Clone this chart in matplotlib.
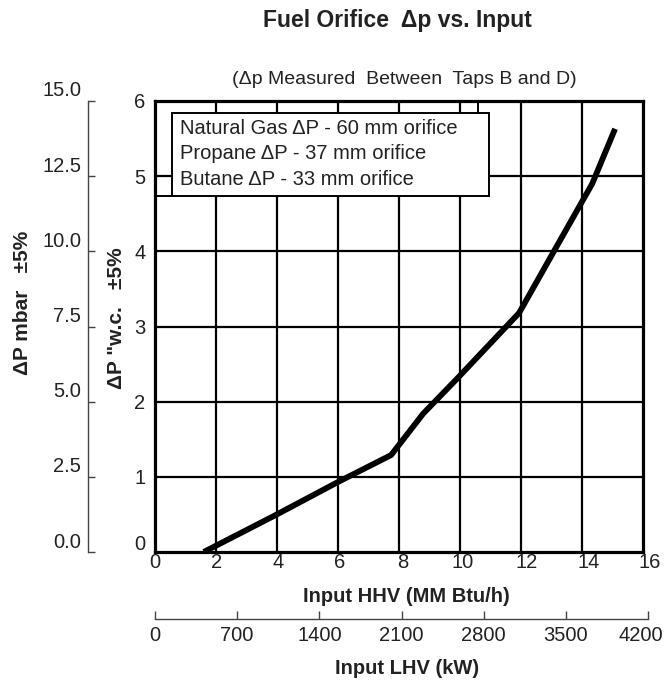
import numpy as np
import matplotlib
matplotlib.use("Agg")
import matplotlib.pyplot as plt
from matplotlib.patches import Rectangle
from matplotlib.transforms import ScaledTranslation

plt.rcParams['font.family'] = ['Liberation Sans', 'DejaVu Sans']

# curve: input HHV (MM Btu/h) vs dP ("w.c.)
hhv = [1.6, 4.0, 6.0, 7.75, 8.8, 9.9, 11.95, 13.05, 14.35, 15.1]
dp_wc = [0.0, 0.5, 0.93, 1.29, 1.84, 2.3, 3.18, 3.97, 4.9, 5.63]

hhv_ticks = [0, 2, 4, 6, 8, 10, 12, 14, 16]
wc_ticks = [0, 1, 2, 3, 4, 5, 6]
mbar_ticks = [0.0, 2.5, 5.0, 7.5, 10.0, 12.5, 15.0]
lhv_ticks = [0, 700, 1400, 2100, 2800, 3500, 4200]
legend_lines = ["Natural Gas \u0394P - 60 mm orifice",
                "Propane \u0394P - 37 mm orifice",
                "Butane \u0394P - 33 mm orifice"]

txt = '#222222'
W, H = 666, 681
TICK_FS = 14.5
fig = plt.figure(figsize=(W / 100, H / 100), dpi=100)


def shift(label, dx, dy):
    # nudge a tick label by pixels
    label.set_transform(label.get_transform() +
                        ScaledTranslation(dx / 100, dy / 100, fig.dpi_scale_trans))


# main plot box (pixels: x 155-642, y 101-552)
ax = fig.add_axes([155 / W, (H - 552) / H, 487.5 / W, 451 / H])
ax.set_xlim(0, 16)
ax.set_ylim(0, 6)
ax.set_xticks(hhv_ticks)
ax.set_yticks(wc_ticks)
ax.tick_params(length=0, labelsize=TICK_FS, labelcolor=txt)
ax.tick_params(axis='y', pad=7)
ax.tick_params(axis='x', pad=1)
for s in ax.spines.values():
    s.set_linewidth(2.3)
    s.set_zorder(5)

# the scanned labels sit a little right of their grid lines
for lab, dx in zip(ax.get_xticklabels(), [0, 1, 1, 2, 4, 3, 6, 7, 7]):
    shift(lab, dx, 0)
shift(ax.get_yticklabels()[0], 0, 9)

# grid
for gx in hhv_ticks[1:-1]:
    ax.axvline(gx, color='black', lw=1.6, zorder=1)
for gy in wc_ticks[1:-1]:
    ax.axhline(gy, color='black', lw=1.6, zorder=1)

# legend box covering the grid
lx0, lx1, ly0, ly1 = 0.56, 10.95, 4.73, 5.84
ax.add_patch(Rectangle((lx0, ly0), lx1 - lx0, ly1 - ly0, facecolor='white',
                       edgecolor='black', lw=1.4, zorder=2))
ax.plot([0, lx0], [ly0, ly0], color='black', lw=1.4, zorder=2)
ax.plot([10.6, 10.6], [ly1, 6], color='black', lw=1.4, zorder=2)
for i, t in enumerate(legend_lines):
    ax.text(0.82, 5.63 - i * 0.335, t, fontsize=14.5, color=txt,
            va='center', ha='left', zorder=3)

ax.plot(hhv, dp_wc, color='black', lw=4.2, zorder=4, solid_capstyle='butt')

# mbar scale on far left
ax2 = ax.twinx()
ax2.set_ylim(0, 15)
ax2.yaxis.set_ticks_position('left')
ax2.spines['left'].set_position(('axes', (88 - 155) / 487.5))
ax2.spines['left'].set_linewidth(1.0)
ax2.spines['left'].set_color('#444444')
for k in ['right', 'top', 'bottom']:
    ax2.spines[k].set_visible(False)
ax2.set_yticks(mbar_ticks)
ax2.set_yticklabels([f"{v:.1f}" for v in mbar_ticks])
ax2.tick_params(axis='y', direction='in', length=5, width=1.0,
                color='#444444', labelsize=TICK_FS, labelcolor=txt, pad=5)
for lab in ax2.get_yticklabels():
    shift(lab, 0, 12)

# LHV scale below
ax3 = fig.add_axes([155 / W, (H - 619) / H, 493 / W, 0.0001])
ax3.set_xlim(0, 4200)
ax3.set_xticks(lhv_ticks)
ax3.set_yticks([])
for k in ['left', 'right', 'top']:
    ax3.spines[k].set_visible(False)
ax3.spines['bottom'].set_linewidth(1.0)
ax3.spines['bottom'].set_color('#444444')
ax3.tick_params(axis='x', direction='in', length=6, width=1.0,
                color='#444444', labelsize=TICK_FS, labelcolor=txt, pad=5)
ax3.patch.set_visible(False)
shift(ax3.get_xticklabels()[-1], -7, 0)

# axis titles
fig.text(23 / W, 1 - 303 / H, "\u0394P mbar   \u00b15%", rotation=90,
         fontsize=15, fontweight='bold', color=txt, ha='center', va='center')
fig.text(117 / W, 1 - 318 / H, "\u0394P \"w.c.   \u00b15%", rotation=90,
         fontsize=15, fontweight='bold', color=txt, ha='center', va='center')
fig.text(406 / W, 1 - 596 / H, "Input HHV (MM Btu/h)", fontsize=14.5,
         fontweight='bold', color=txt, ha='center', va='center')
fig.text(407 / W, 1 - 668 / H, "Input LHV (kW)", fontsize=14.5,
         fontweight='bold', color=txt, ha='center', va='center')

fig.text(397 / W, 1 - 21 / H, "Fuel Orifice  \u0394p vs. Input", fontsize=16.5,
         fontweight='bold', color=txt, ha='center', va='center')
fig.text(404 / W, 1 - 80 / H,
         "(\u0394p Measured  Between  Taps B and D)", fontsize=14,
         color=txt, ha='center', va='center')

fig.savefig("out.png", dpi=100)
